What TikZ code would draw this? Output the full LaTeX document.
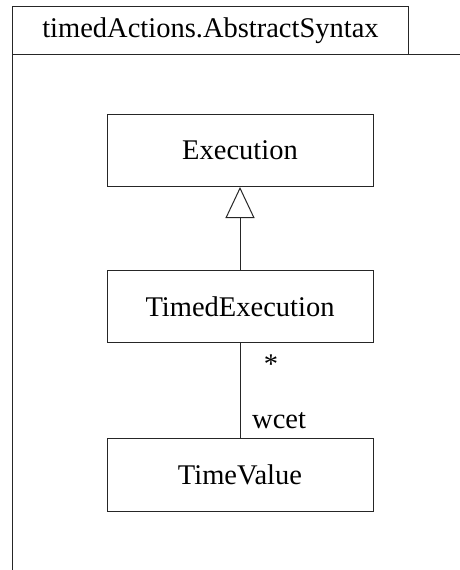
\documentclass[tikz,border=0pt]{standalone}
\usepackage{fontspec}
\setmainfont{Liberation Serif}
\usetikzlibrary{arrows.meta}
\begin{document}
\begin{tikzpicture}[x=1pt,y=-1pt,
  umlclass/.style={draw=black!85, line width=1pt, rectangle, minimum width=266pt, minimum height=72pt, inner sep=0pt, font=\fontsize{28.5}{32}\selectfont},
  lbl/.style={inner sep=0pt, font=\fontsize{28.5}{32}\selectfont},
  frame/.style={draw=black!85, line width=1pt},
  conn/.style={draw=black!85, line width=1pt}]
\useasboundingbox (0,0) rectangle (460,570);
% package frame
\node[frame, rectangle, minimum width=396pt, minimum height=48pt, inner sep=0pt, anchor=north west, font=\fontsize{28.5}{32}\selectfont] (tab) at (12,6) {\raisebox{-2pt}{timedActions.AbstractSyntax}};
\draw[frame] (12,570) -- (12,54) -- (460,54);
% classes
\node[umlclass] (exec) at (240,150.5) {\raisebox{-2pt}{Execution}};
\node[umlclass] (timed) at (240,306.5) {\raisebox{-2pt}{TimedExecution}};
\node[umlclass, minimum height=73pt] (tv) at (240,474.5) {\raisebox{-2pt}{TimeValue}};
% connectors
\draw[conn, -{Triangle[open, length=31pt, width=29pt, fill=white]}] (timed.north) -- (exec.south);
\draw[conn] (timed.south) -- (tv.north);
\node[lbl] (mult) at (271,364) {*};
\node[lbl, anchor=west] (role) at (252,421) {wcet};
\end{tikzpicture}
\end{document}
